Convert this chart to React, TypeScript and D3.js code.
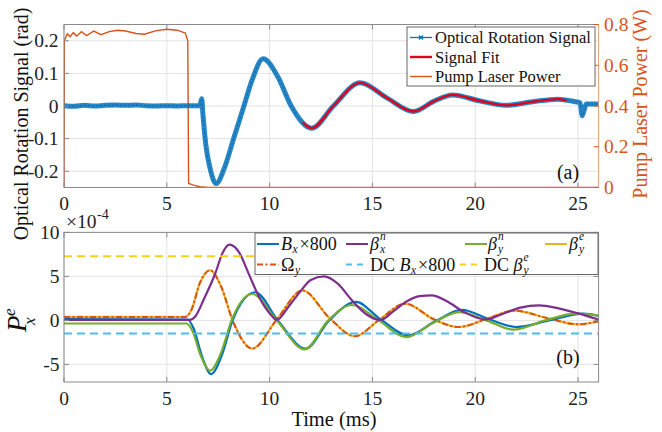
import React from 'react';
import * as d3 from 'd3';

type Pt = [number, number];

// ---------- Panel (a) data ----------
const opticalSignal: Pt[] = [
  [0, 0.001], [0.5, -0.001], [1, 0.002], [1.5, 0.0], [2, 0.002], [2.5, 0.003], [3, 0.002],
  [3.5, 0.003], [4, 0.001], [4.5, 0.0], [5, 0.001], [5.5, 0.0], [6, 0.001], [6.6, 0.001],
  [6.7, 0.022], [6.75, -0.02], [6.9, -0.12], [7.1, -0.19], [7.4, -0.238], [7.8, -0.19],
  [8.25, -0.1], [8.75, 0.0], [9.15, 0.08], [9.68, 0.145], [10.4, 0.09], [11.05, 0.0],
  [12.05, -0.068], [13.1, 0.0], [14.4, 0.071], [15.7, 0.025], [17.0, -0.017], [18.0, 0.015],
  [18.9, 0.034], [20.2, 0.016], [21.5, 0.002], [22.8, 0.013], [24.0, 0.021], [24.8, 0.014],
  [25.1, 0.01], [25.2, -0.03], [25.3, -0.012], [25.4, 0.006], [26, 0.006]
];

const signalFit: Pt[] = [
  [11.6, -0.05], [12.05, -0.068], [13.1, 0.0], [14.4, 0.071], [15.7, 0.025], [17.0, -0.017],
  [18.0, 0.015], [18.9, 0.034], [20.2, 0.016], [21.5, 0.002], [22.8, 0.013], [24.0, 0.021],
  [24.45, 0.017]
];

const pumpPower: Pt[] = [
  [0, 0], [0.02, 0.72], [0.16, 0.755], [0.3, 0.74], [0.45, 0.76], [0.62, 0.743], [0.85, 0.765],
  [1.1, 0.745], [1.45, 0.768], [1.8, 0.75], [2.2, 0.765], [2.6, 0.772], [3.0, 0.768],
  [3.5, 0.756], [3.9, 0.752], [4.5, 0.77], [5.0, 0.777], [5.5, 0.772], [5.9, 0.758],
  [6.02, 0.72], [6.06, 0.02], [6.3, 0.012], [6.6, 0.004], [7.0, 0.0], [26, 0.0]
];

// ---------- Panel (b) data (units of 1e-4) ----------
const bx800: Pt[] = [
  [0, 0.15], [6.0, 0.1], [6.3, -0.9], [6.7, -4.0], [7.15, -6.1], [7.7, -3.8], [8.2, 0.0],
  [9.3, 3.2], [10.4, 0.0], [11.75, -3.2], [12.9, 0.0], [14.2, 2.1], [15.4, 0.1],
  [16.75, -1.7], [18.05, -0.1], [19.35, 1.2], [20.7, 0.1], [22.0, -0.75], [23.6, 0.0],
  [25.25, 0.76], [26, 0.5]
];

const betaXn: Pt[] = [
  [0, 0.05], [6.1, 0.05], [6.4, 0.5], [6.8, 2.4], [7.35, 5.3], [7.7, 7.6], [8.05, 8.6],
  [8.5, 7.8], [9.0, 5.2], [9.5, 2.6], [10.0, 0.8], [10.35, 0.05], [10.9, 1.5], [11.5, 3.3],
  [12.0, 4.6], [12.65, 5.0], [13.3, 4.2], [14.0, 2.3], [14.7, 0.7], [15.4, 0.05], [16.0, 1.0],
  [16.7, 2.2], [17.3, 2.75], [17.9, 2.85], [18.6, 2.2], [19.5, 0.9], [20.5, 0.1], [21.3, 0.7],
  [22.2, 1.45], [23.1, 1.7], [24.0, 1.4], [25.0, 0.8], [26, 0.1]
];

const betaYn: Pt[] = [
  [0, -0.35], [5.95, -0.35], [6.25, -1.2], [6.65, -4.0], [7.1, -5.7], [7.65, -3.6],
  [8.15, 0.0], [9.15, 3.0], [10.35, 0.0], [11.7, -3.3], [12.85, 0.0], [14.0, 1.75],
  [15.3, 0.0], [16.65, -1.9], [17.95, -0.3], [19.2, 0.95], [20.6, -0.05], [21.85, -1.05],
  [23.4, 0.0], [24.9, 0.76], [26, 0.55]
];

const omegaY: Pt[] = [
  [0, 0.4], [5.9, 0.4], [6.2, 1.2], [6.6, 4.2], [7.1, 5.7], [7.65, 3.8], [8.2, 0.0],
  [9.15, -3.2], [10.35, 0.1], [11.6, 3.4], [12.9, 0.3], [14.15, -1.8], [15.3, 0.0],
  [16.6, 1.9], [18.0, 0.1], [19.2, -0.75], [20.6, 0.2], [21.9, 1.1], [23.6, 0.2],
  [25.0, -0.45], [26, -0.1]
];

// beta_y^e lies on top of Omega_y in the picture
const betaYe: Pt[] = omegaY;

const dcBx800: Pt[] = [[0, -1.5], [26, -1.5]];
const dcBetaYe: Pt[] = [[0, 7.3], [26, 7.3]];

// ---------- ticks ----------
const xTicks = [0, 5, 10, 15, 20, 25];
const topYTicks = [-0.2, -0.1, 0, 0.1, 0.2];
const topYLabels = ['-0.2', '-0.1', '0', '0.1', '0.2'];
const powTicks = [0, 0.2, 0.4, 0.6, 0.8];
const powLabels = ['0', '0.2', '0.4', '0.6', '0.8'];
const botYTicks = [-5, 0, 5, 10];
const botYLabels = ['-5', '0', '5', '10'];

const FONT = '"Liberation Serif", "Times New Roman", serif';
const C = {
  blue: '#0072BD',
  red: '#E3001B',
  orange: '#D95319',
  purple: '#7E2F8E',
  green: '#77AC30',
  yellow: '#EDB120',
  cyan: '#4DBEEE',
  dcYellow: '#F7D117',
  grid: '#e3e3e3',
  axis: '#8a8a8a',
};

const TICK_FS = 19.5;

export default function App() {
  const W = 662, H = 432;
  const x = d3.scaleLinear().domain([0, 26]).range([64, 598.6]);
  const yTop = d3.scaleLinear().domain([-0.25, 0.25]).range([187.5, 24.5]);
  const yPow = d3.scaleLinear().domain([0, 0.8]).range([187.5, 24.5]);
  const yBot = d3.scaleLinear().domain([-7, 10]).range([382, 232.4]);

  const mk = (ys: d3.ScaleLinear<number, number>, curve: d3.CurveFactory = d3.curveMonotoneX) =>
    d3.line<Pt>().x(d => x(d[0])).y(d => ys(d[1])).curve(curve);

  const lTop = mk(yTop);
  const lPow = mk(yPow, d3.curveLinear);
  const lBot = mk(yBot);

  const [x0, x1] = x.range();
  const topR = { t: yTop.range()[1], b: yTop.range()[0] };
  const botR = { t: yBot.range()[1], b: yBot.range()[0] };

  const LFS = 18;   // legend (b) font size
  const SFS = 11.5; // script font size

  // a symbol with stacked super/subscript, drawn as separate texts
  const stacked = (xs: number, base: number, main: string, sup: string, sb: string, subDrop: number) => (
    <g>
      <text x={xs} y={base} fontSize={LFS} fontStyle="italic">{main}</text>
      <text x={xs + 10} y={base - 10.5} fontSize={SFS} fontStyle="italic">{sup}</text>
      <text x={xs + 10} y={base + subDrop} fontSize={SFS} fontStyle="italic">{sb}</text>
    </g>
  );

  return (
    <svg width={W} height={H} style={{ position: 'absolute', left: 0, top: 0, background: '#fff' }}
      fontFamily={FONT}>
      <defs>
        <clipPath id="clipTop"><rect x={x0} y={topR.t} width={x1 - x0} height={topR.b - topR.t} /></clipPath>
        <clipPath id="clipBot"><rect x={x0} y={botR.t} width={x1 - x0} height={botR.b - botR.t} /></clipPath>
      </defs>
      <rect x={0} y={0} width={W} height={H} fill="#fff" />

      {/* ===== Panel (a) ===== */}
      <g>
        {xTicks.map(t => (
          <line key={'gx' + t} x1={x(t)} x2={x(t)} y1={topR.t} y2={topR.b} stroke={C.grid} strokeWidth={1} />
        ))}
        {topYTicks.map(t => (
          <line key={'gy' + t} x1={x0} x2={x1} y1={yTop(t)} y2={yTop(t)} stroke={C.grid} strokeWidth={1} />
        ))}
        <g clipPath="url(#clipTop)">
          <path d={lPow(pumpPower) || ''} fill="none" stroke={C.orange} strokeWidth={1.4} />
          <path d={lTop(opticalSignal) || ''} fill="none" stroke={C.blue} strokeWidth={5} strokeLinejoin="round" opacity={0.85} />
          <path d={lTop(opticalSignal) || ''} fill="none" stroke="#1c5f9c" strokeWidth={1} strokeDasharray="2,2" />
          <path d={lTop(signalFit) || ''} fill="none" stroke={C.red} strokeWidth={2.4} />
        </g>
        {/* axes box */}
        <line x1={x0} x2={x1} y1={topR.t} y2={topR.t} stroke={C.axis} />
        <line x1={x0} x2={x1} y1={topR.b} y2={topR.b} stroke={C.axis} />
        <line x1={x0} x2={x0} y1={topR.t} y2={topR.b} stroke={C.axis} />
        <line x1={x1} x2={x1} y1={topR.t} y2={topR.b} stroke="#e0a080" />
        {xTicks.map(t => (
          <g key={'tx' + t}>
            <line x1={x(t)} x2={x(t)} y1={topR.b} y2={topR.b - 5} stroke={C.axis} />
            <line x1={x(t)} x2={x(t)} y1={topR.t} y2={topR.t + 5} stroke={C.axis} />
            <text x={x(t)} y={210} fontSize={TICK_FS} textAnchor="middle" fill="#222">{t}</text>
          </g>
        ))}
        {topYTicks.map((t, i) => (
          <g key={'ty' + t}>
            <line x1={x0} x2={x0 + 5} y1={yTop(t)} y2={yTop(t)} stroke={C.axis} />
            <text x={58.5} y={yTop(t) + 6.5} fontSize={TICK_FS} textAnchor="end" fill="#222">{topYLabels[i]}</text>
          </g>
        ))}
        {powTicks.map((t, i) => (
          <g key={'tp' + t}>
            <line x1={x1} x2={x1 - 5} y1={yPow(t)} y2={yPow(t)} stroke={C.orange} />
            <text x={604} y={yPow(t) + 6.5} fontSize={TICK_FS} textAnchor="start" fill={C.orange}>{powLabels[i]}</text>
          </g>
        ))}
        <text transform="translate(28,124) rotate(-90)" fontSize={20} textAnchor="middle" fill="#111">
          Optical Rotation Signal (rad)
        </text>
        <text transform="translate(647,104) rotate(-90)" fontSize={20} textAnchor="middle" fill={C.orange}>
          Pump Laser Power (W)
        </text>
        <text x={568} y={179} fontSize={20} textAnchor="middle" fill="#111">(a)</text>

        {/* legend (a) */}
        <rect x={407} y={27} width={188} height={59} fill="#fff" stroke="#666" strokeWidth={1} />
        {[
          { label: 'Optical Rotation Signal', color: C.blue, w: 1.3, marker: true },
          { label: 'Signal Fit', color: C.red, w: 2.4, marker: false },
          { label: 'Pump Laser Power', color: C.orange, w: 1.4, marker: false },
        ].map((e, i) => {
          const cy = 37.5 + i * 19.5;
          return (
            <g key={e.label}>
              <line x1={410} x2={432} y1={cy} y2={cy} stroke={e.color} strokeWidth={e.w} />
              {e.marker && (
                <g stroke={e.color} strokeWidth={1.2}>
                  <line x1={419} x2={423} y1={cy - 2} y2={cy + 2} />
                  <line x1={419} x2={423} y1={cy + 2} y2={cy - 2} />
                </g>
              )}
              <text x={435} y={cy + 5.5} fontSize={16.5} fill="#111">{e.label}</text>
            </g>
          );
        })}
      </g>

      {/* ===== Panel (b) ===== */}
      <g>
        {xTicks.map(t => (
          <line key={'bgx' + t} x1={x(t)} x2={x(t)} y1={botR.t} y2={botR.b} stroke={C.grid} strokeWidth={1} />
        ))}
        {botYTicks.map(t => (
          <line key={'bgy' + t} x1={x0} x2={x1} y1={yBot(t)} y2={yBot(t)} stroke={C.grid} strokeWidth={1} />
        ))}
        <g clipPath="url(#clipBot)" fill="none">
          <path d={lBot(betaYe) || ''} stroke={C.yellow} strokeWidth={2.2} />
          <path d={lBot(omegaY) || ''} stroke={C.orange} strokeWidth={2} strokeDasharray="6,2.5,2,2.5" />
          <path d={lBot(bx800) || ''} stroke={C.blue} strokeWidth={2.2} />
          <path d={lBot(betaYn) || ''} stroke={C.green} strokeWidth={2.2} />
          <path d={lBot(betaXn) || ''} stroke={C.purple} strokeWidth={2.2} />
          <path d={lBot(dcBx800) || ''} stroke={C.cyan} strokeWidth={2} strokeDasharray="8,5" />
          <path d={lBot(dcBetaYe) || ''} stroke={C.dcYellow} strokeWidth={2} strokeDasharray="8,5" />
        </g>
        <rect x={x0} y={botR.t} width={x1 - x0} height={botR.b - botR.t} fill="none" stroke={C.axis} />
        {xTicks.map(t => (
          <g key={'btx' + t}>
            <line x1={x(t)} x2={x(t)} y1={botR.b} y2={botR.b - 5} stroke={C.axis} />
            <line x1={x(t)} x2={x(t)} y1={botR.t} y2={botR.t + 5} stroke={C.axis} />
            <text x={x(t)} y={405} fontSize={TICK_FS} textAnchor="middle" fill="#222">{t}</text>
          </g>
        ))}
        {botYTicks.map((t, i) => (
          <g key={'bty' + t}>
            <line x1={x0} x2={x0 + 5} y1={yBot(t)} y2={yBot(t)} stroke={C.axis} />
            <line x1={x1} x2={x1 - 5} y1={yBot(t)} y2={yBot(t)} stroke={C.axis} />
            <text x={59.5} y={yBot(t) + 6.5} fontSize={TICK_FS} textAnchor="end" fill="#222">{botYLabels[i]}</text>
          </g>
        ))}
        <text x={66} y={228} fontSize={19.5} fill="#222">×10</text>
        <text x={97} y={219} fontSize={14} fill="#222">-4</text>
        <text transform="translate(26,332) rotate(-90)" fontSize={27} fontStyle="italic" fill="#111">P</text>
        <text transform="translate(26,316) rotate(-90)" fontSize={17} fontStyle="italic" fill="#111">
          <tspan dy={-11}>e</tspan>
        </text>
        <text transform="translate(31,316) rotate(-90)" fontSize={17} fontStyle="italic" fill="#111">
          <tspan dx={-9} dy={4}>x</tspan>
        </text>
        <text x={334} y={426} fontSize={20.5} textAnchor="middle" fill="#111">Time (ms)</text>
        <text x={568} y={364} fontSize={20} textAnchor="middle" fill="#111">(b)</text>

        {/* legend (b) */}
        <rect x={255} y={233} width={343} height={41.5} fill="#fff" stroke="#666" strokeWidth={1} />
        {(() => {
          const b1 = 250, b2 = 271;
          const r1 = b1 - 6, r2 = b2 - 6.5;
          const sym = (xa: number, cy: number, color: string, dash?: string) => (
            <line x1={xa} x2={xa + 22} y1={cy} y2={cy} stroke={color} strokeWidth={2} strokeDasharray={dash} />
          );
          return (
            <g fill="#111">
              {sym(257, r1, C.blue)}
              <text x={281} y={b1} fontSize={LFS} fontStyle="italic">B</text>
              <text x={292.5} y={b1 + 2.5} fontSize={SFS} fontStyle="italic">x</text>
              <text x={299.5} y={b1} fontSize={LFS}>×800</text>

              {sym(346, r1, C.purple)}
              {stacked(370, b1, 'β', 'n', 'x', 2.5)}
              {sym(465, r1, C.green)}
              {stacked(488, b1, 'β', 'n', 'y', 2.5)}
              {sym(545, r1, C.yellow)}
              {stacked(569, b1, 'β', 'e', 'y', 2.5)}

              {sym(257, r2, C.orange, '6,2.5,2,2.5')}
              <text x={281} y={b2} fontSize={LFS}>Ω</text>
              <text x={295} y={b2 + 2.5} fontSize={SFS} fontStyle="italic">y</text>

              {sym(346, r2, C.cyan, '6,5')}
              <text x={370} y={b2} fontSize={LFS}>DC</text>
              <text x={399.5} y={b2} fontSize={LFS} fontStyle="italic">B</text>
              <text x={411} y={b2 + 2.5} fontSize={SFS} fontStyle="italic">x</text>
              <text x={418} y={b2} fontSize={LFS}>×800</text>

              {sym(460, r2, C.dcYellow, '6,5')}
              <text x={484} y={b2} fontSize={LFS}>DC</text>
              {stacked(513.5, b2, 'β', 'e', 'y', 2.5)}
            </g>
          );
        })()}
      </g>
    </svg>
  );
}
